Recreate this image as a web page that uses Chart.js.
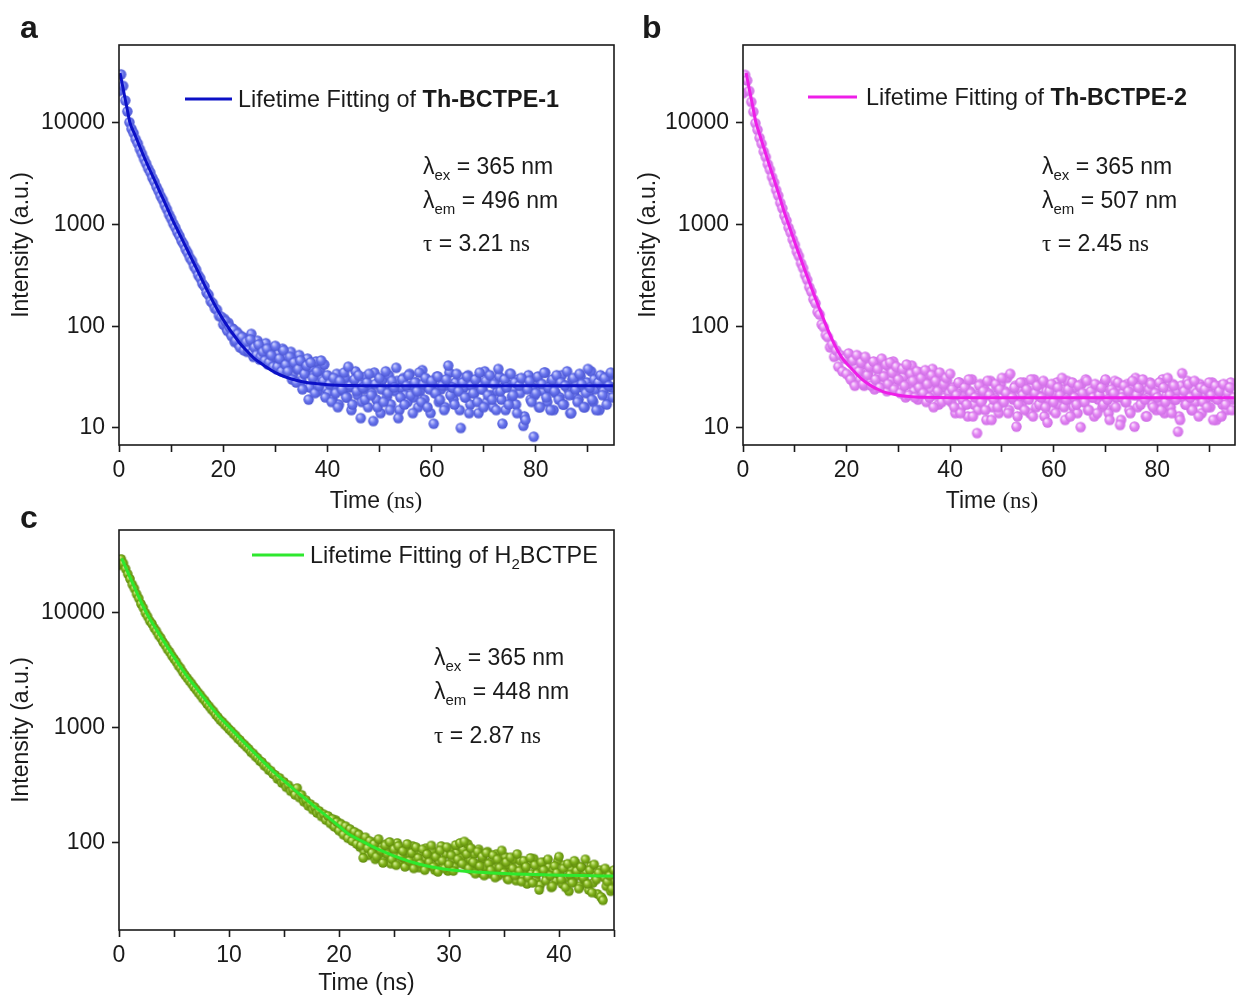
<!DOCTYPE html>
<html>
<head>
<meta charset="utf-8">
<script src="https://cdn.jsdelivr.net/npm/chart.js@4.4.1/dist/chart.umd.min.js"></script>
<style>
  body { margin: 0; background: #fff; }
  canvas { position: absolute; }
</style>
</head>
<body>
<canvas id="chartA" width="620" height="520" style="left:0;top:0"></canvas>
<canvas id="chartB" width="621" height="520" style="left:620px;top:0"></canvas>
<canvas id="chartC" width="620" height="493" style="left:0;top:505px"></canvas>
<script>
// ---------------- Data ----------------
const samples = ["Th-BCTPE-1", "Th-BCTPE-2", "BCTPE"];
const exNm = [365, 365, 365];
const emNm = [496, 507, 448];
const tauNs = ["3.21", "2.45", "2.87"];

// panel a : decay counts, one value per 0.4 ns channel starting at 0 ns
const STEP_A = 0.4;
const countsA = [
  20500,29800,23000,16500,12900,10100,8700,7900,6900,6250,
  5500,4950,4400,3980,3560,3250,2880,2630,2340,2130,
  1900,1740,1550,1410,1250,1140,1020,935,840,770,
  690,640,570,525,470,438,388,360,318,296,
  262,246,214,203,176,168,150,145,126,124,
  104,112,90,98,80,92,72,84,62,78,
  58,70,58,74,55,62,52,66,50,56,
  46,60,44,52,40,64,40,48,36,58,
  42,36,50,30,44,28,38,46,24,34,
  41,19,44,31,22,36,26,46,29,20,
  33,
  27,18,31,22,16,29,24,35,20,40,
  26,17,30,23,33,12.5,25,19,28,34,
  21,11.7,27,16,31,24,18,36,22,15,
  29,25,39,12.5,20,30,17,26,33,21,
  14,28,23,35,18,27,31,16,24,29,
  11,22,32,19,26,15,30,41,21,25,
  17,34,23,10,28,20,32,14,26,22,
  30,18,35,24,16,29,21,33,19,27,
  15,38,23,11,30,25,17,34,21,28,
  14,26,31,10.5,12,24,29,18,8.2,22,
  32,16,27,35,20,25,15,30,23,33,
  19,28,17,26,36,21,14,31,24,18,
  34,27,16,22,38,25,19,30,15,28,
  33,21,31,17,26,35,20
];
// in-between channels of the noisy tail (from 20.2 ns, 0.4 ns apart)
const START_A2 = 20.2;
const countsA2 = [
  118,96,108,86,95,70,88,66,80,60,
  76,56,68,84,50,64,72,47,60,54,
  68,42,58,48,62,38,54,45,60,35,
  50,40,56,33,47,38,52,29,43,35,
  48,25,39,33,45,23,37,30,42,24,
  22,30,19,26,34,17,28,23,31,20,
  25,15,29,36,21,27,18,24,32,16,
  26,22,35,19,28,14,30,24,20,33,
  17,27,23,29,15,25,31,21,18,34,
  26,20,28,16,23,37,19,30,25,14,
  27,22,32,18,24,29,16,26,35,21,
  19,28,23,15,31,25,20,33,17,27,
  22,30,14,26,24,36,18,28,21,16,
  29,23,32,19,25,15,27,34,20,24,
  17,30,22,28,13,26,33,19,25,21,
  31,16,27,23,35,18,24,29,15,22,
  28,20,33,17,26,24,14,30,21,27,
  19,32,25,16,28,22,36,18,24,30,
  15,26,23,29,20,33,25
];
const fitTimeA = [0.2,0.6,1,1.5,2.1,3,4,5,6,7,8,9,10,11,12,13,14,15,16,17,18,19,20,21,22,23,24,25,26,27,28,30,32,34,36,38,40,45,50,70,94.8];
const fitA = [30800,24300,19000,14200,10000,7720,5790,4370,3370,2600,2000,1550,1190,930,733,577,454,357,281,221,176,142,116,97,82,70,61,54,48,44,40.5,35,31.6,29.4,28,27.2,26.6,26.1,26,26,26];

// panel b
const STEP_B = 0.4;
const countsB = [
  19500,29500,26000,20500,16000,12800,9900,8500,7100,6200,
  5200,4600,3900,3450,2920,2580,2180,1920,1630,1440,
  1220,1090,930,830,710,630,540,488,415,372,
  318,285,242,218,184,168,138,130,104,98,
  82,78,62,66,50,58,40,52,36,48,
  34,54,30,46,26,52,36,44,27,50,
  33,40,26,45,30,38,25,48,32,42,
  27,44,35,24,40,30,22,38,26,42,
  21,34,29,20,36,25,31,22,37,27,
  20,33,16,29,23,35,18,27,31,19,
  34,
  24,16,21,28,14,19,25,17,30,22,
  13,20,8.9,26,18,23,15,29,21,12,
  19,27,16,24,31,18,22,14,34,20,
  25,10.3,17,28,21,15,24,19,30,13,
  22,26,17,20,29,16,11.3,23,27,18,
  14,25,21,31,16,19,24,13,28,20,
  17,26,10.2,22,18,29,15,23,20,27,
  14,21,25,17,30,19,12,24,22,16,
  28,10.7,20,26,18,23,14,29,10.3,21,
  25,17,30,19,13,24,27,16,22,20,
  28,15,25,18,31,21,14,26,19,9.2,
  12,34.5,23,17,27,20,15,29,22,13,
  25,18,24,16,28,21,12,26,19,23,
  13,27,17,22,25,15,20
];
const START_B2 = 20.2;
const countsB2 = [
  48,32,44,28,40,50,30,42,26,46,
  35,28,43,24,39,32,46,26,36,23,
  40,29,45,25,34,38,24,32,20,37,
  27,41,23,31,19,35,26,30,18,33,
  24,38,21,28,17,32,25,20,29,22,
  18,25,14,22,28,16,20,26,13,23,
  30,17,21,15,27,19,24,12,22,29,
  16,20,25,14,27,18,23,31,15,21,
  19,26,13,24,17,28,20,22,14,25,
  30,16,21,18,27,13,23,19,26,15,
  22,28,17,20,24,12,29,19,23,16,
  25,14,21,27,18,30,15,22,20,13,
  26,19,24,16,28,21,14,23,17,29,
  20,25,12,22,18,27,15,24,21,31,
  16,23,19,26,13,20,28,17,22,15,
  25,18,30,14,21,24,16,27,19,23,
  13,26,20,17,29,22,15,24,18,21,
  27,14,25,19,23,16,28,20,12,22,
  26,17,24,15,21,28,19
];
const fitTimeB = [0.6,1,1.5,2,2.5,3,4,5,6,7,8,9,10,11,12,13,14,15,16,17,18,19,20,21,22,23,24,25,26,27,28,30,32,35,40,60,94.8];
const fitB = [30800,24300,18100,13450,10000,8280,5700,3955,2755,1920,1310,935,666,481,349,255,187,139,103,78,61,50,43,38,33.5,30,27.5,25.5,24,22.8,22,21,20.4,20,19.8,19.8,19.8];

// panel c : 0.2 ns channels
const STEP_C = 0.2;
const countsC = [
  26000,29500,27000,24200,21800,19800,17700,16300,14600,13400,
  12000,11100,10000,9300,8500,8050,7400,6950,6400,6050,
  5580,5250,4850,4580,4250,4000,3760,3480,3300,3060,
  2880,2720,2560,2430,2270,2160,2030,1930,1810,1730,
  1620,1540,1450,1390,1300,1240,1170,1130,1070,1030,
  975,940,890,860,810,785,740,715,680,655,
  615,600,565,548,515,505,470,462,430,425,
  398,390,360,368,332,340,305,318,282,292,
  262,300,248,262,228,236,210,218,195,205,
  182,190,170,178,158,172,148,162,138,152,
  128,145,118,140,110,132,104,125,98,118,
  95,
  74,112,90,104,82,98,76,108,86,67,
  95,80,102,72,88,64,94,76,85,62,
  98,70,82,60,92,74,66,88,58,80,
  68,95,62,76,56,86,70,60,92,65,
  78,57,96,72,100,66,103,80,60,90,
  68,54,84,63,76,52,82,66,58,78,
  50,72,61,86,55,68,48,75,60,52,
  80,57,46,70,62,50,74,45,64,54,
  39,68,58,47,72,52,42,63,55,76,
  48,60,41,66,53,45,70,57,40,62,
  50,72,44,58,37,65,48,55,34,31.7,
  60,46,52,40,58
];
const START_C2 = 19.1;
const countsC2 = [
  165,152,142,158,133,148,125,138,116,130,
  108,124,102,120,92,
  110,84,100,78,96,88,72,104,80,92,
  70,98,84,66,90,78,100,68,86,74,
  90,64,78,94,70,84,61,80,72,90,
  63,77,86,58,74,68,94,62,80,57,
  88,70,62,82,95,74,88,64,98,72,
  58,80,66,88,55,72,62,84,54,70,
  60,80,52,68,58,76,49,64,56,72,
  47,62,70,51,58,44,66,54,73,48,
  60,43,56,68,50,62,41,58,47,70,
  53,44,64,50,38,59,46,67,52,42,
  61,48,55,39,63,45,52,36,58,33,
  50,42,56,38,47
];
const fitTimeC = [0.24,1,1.7,2.5,3.5,4.5,6,7,8,9,10.1,11,12,13,14.2,15,16,17,17.8,19,20,20.8,22,23,24,25,26,27,28,29,30,32,34,36,38,40,42,45];
const fitC = [29900,20400,14450,10000,6920,4900,2990,2240,1690,1290,1000,813,650,522,404,347,287,240,207,168,140,121,104.7,93.5,84.5,77.3,71.3,66.7,63.1,60.5,58.6,56.2,54.8,53.8,53.1,52.5,52,51.6];

// axis ticks
const xTicksAB = [0,10,20,30,40,50,60,70,80,90];
const xLabelsAB = [0,20,40,60,80];
const xTicksC = [0,5,10,15,20,25,30,35,40,45];
const xLabelsC = [0,10,20,30,40];
const yTicksAB = [10,100,1000,10000];
const yTicksC = [100,1000,10000];

// ---------------- Helpers ----------------
const INK = "#1a1a1a";
const SANS = "'Liberation Sans', Arial, Helvetica, sans-serif";
const SERIF = "'Liberation Serif', 'Times New Roman', Times, serif";
const FS = 23;
const LEG_FS = 23.4;
const font = (size, bold, serif) => `${bold ? "bold " : ""}${size}px ${serif ? SERIF : SANS}`;

const toPoints = (step, counts, start = 0) =>
  counts.map((v, i) => ({ x: Math.round((start + i * step) * 100) / 100, y: v }));
const toLine = (times, vals) => times.map((t, i) => ({ x: t, y: vals[i] }));

// little shaded sphere used as marker
function makeBall(base, light, dark, r) {
  const c = document.createElement("canvas");
  const s = Math.ceil(r * 2 + 2);
  c.width = c.height = s;
  const g = c.getContext("2d");
  const m = s / 2;
  const grad = g.createRadialGradient(m - r * 0.35, m - r * 0.4, r * 0.1, m, m, r);
  grad.addColorStop(0, light);
  grad.addColorStop(0.5, base);
  grad.addColorStop(1, dark);
  g.fillStyle = grad;
  g.beginPath(); g.arc(m, m, r, 0, Math.PI * 2); g.fill();
  return c;
}

function drawRuns(ctx, x, y, runs, size) {
  runs.forEach(r => {
    ctx.font = font(r.size || size || FS, r.bold, r.serif);
    ctx.fillText(r.text, x, y + (r.dy || 0));
    x += ctx.measureText(r.text).width;
  });
}
function runsWidth(ctx, runs) {
  let w = 0;
  runs.forEach(r => { ctx.font = font(r.size || FS, r.bold, r.serif); w += ctx.measureText(r.text).width; });
  return w;
}

// frame, panel letter, legend, annotation
function makeDeco(d) {
  return {
    id: "panelDeco",
    afterDraw(chart) {
      const { ctx, chartArea: a } = chart;
      ctx.save();
      ctx.strokeStyle = INK;
      ctx.lineWidth = 1.6;
      ctx.strokeRect(a.left, a.top, a.right - a.left, a.bottom - a.top);

      ctx.fillStyle = INK;
      ctx.textAlign = "left";
      ctx.textBaseline = "alphabetic";
      ctx.font = font(32, true);
      ctx.fillText(d.letter, d.letterX, d.letterY);

      ctx.strokeStyle = d.lineColor;
      ctx.lineWidth = 3;
      ctx.beginPath(); ctx.moveTo(d.legX1, d.legY); ctx.lineTo(d.legX2, d.legY); ctx.stroke();
      drawRuns(ctx, d.legTextX, d.legY + 8, d.legRuns, LEG_FS);

      d.notes.forEach((runs, k) => drawRuns(ctx, d.noteX, d.noteY[k], runs));

      if (d.xTitle) {
        const w = runsWidth(ctx, d.xTitle);
        drawRuns(ctx, d.xTitleX - w / 2, d.xTitleY, d.xTitle);
      }
      ctx.restore();
    }
  };
}

function noteRuns(k) {
  return [
    [{ text: "λ" }, { text: "ex", size: 15, dy: 6 }, { text: ` = ${exNm[k]} nm` }],
    [{ text: "λ" }, { text: "em", size: 15, dy: 6 }, { text: ` = ${emNm[k]} nm` }],
    [{ text: "τ", serif: true }, { text: ` = ${tauNs[k]} ` }, { text: "ns", serif: true }]
  ];
}

function buildPanel(id, p) {
  const tickFont = { family: SANS, size: FS };
  const dots = p.points.map(pts => (
    { data: pts, pointStyle: p.ball, pointRadius: 5, showLine: false, order: 1, clip: 0 }
  ));
  return new Chart(document.getElementById(id), {
    type: "scatter",
    data: {
      datasets: [
        { data: p.fit, showLine: true, borderColor: p.lineColor, borderWidth: 3, pointRadius: 0,
          cubicInterpolationMode: "monotone", order: 0, clip: 0 },
        ...dots
      ]
    },
    options: {
      responsive: false,
      animation: false,
      events: [],
      layout: { padding: p.padding },
      plugins: { legend: { display: false }, tooltip: { enabled: false } },
      scales: {
        x: {
          type: "linear", min: 0, max: p.xMax,
          afterBuildTicks: s => { s.ticks = p.xTicks.map(v => ({ value: v })); },
          afterFit: s => { s.height = p.xAxisH; },
          ticks: { autoSkip: false, maxRotation: 0, padding: 5, color: INK, font: tickFont,
                   callback: v => p.xLabels.includes(v) ? String(v) : "" },
          grid: { drawOnChartArea: false, drawTicks: true, tickLength: 7, tickColor: INK, tickWidth: 1.6 },
          border: { display: false },
          title: p.xTitleChart ? { display: true, text: "Time (ns)", color: INK, font: tickFont,
                                   padding: { top: 0, bottom: 1 } } : { display: false }
        },
        y: {
          type: "logarithmic", min: p.yMin, max: p.yMax,
          afterBuildTicks: s => { s.ticks = p.yTicks.map(v => ({ value: v })); },
          afterFit: s => { s.width = p.yAxisW; },
          ticks: { autoSkip: false, padding: 7, color: INK, font: tickFont, callback: v => String(v) },
          grid: { drawOnChartArea: false, drawTicks: true, tickLength: 7, tickColor: INK, tickWidth: 1.6 },
          border: { display: false },
          title: { display: true, text: "Intensity (a.u.)", color: INK, font: tickFont,
                   padding: { top: p.yTitlePad, bottom: 0 } }
        }
      }
    },
    plugins: [makeDeco(p.deco)]
  });
}

const timeTitle = [{ text: "Time " }, { text: "(ns)", serif: true }];

// ---------------- Panel a ----------------
buildPanel("chartA", {
  points: [toPoints(STEP_A, countsA), toPoints(STEP_A, countsA2, START_A2)],
  fit: toLine(fitTimeA, fitA),
  ball: makeBall("#6b77ee", "#c9ceff", "#4c57d4", 5.2), lineColor: "#0b10c6",
  padding: { top: 45, right: 6, left: 0, bottom: 0 }, yAxisW: 119, xAxisH: 75, yTitlePad: 8,
  xMax: 95, xTicks: xTicksAB, xLabels: xLabelsAB, yMin: 6.8, yMax: 58000, yTicks: yTicksAB,
  deco: {
    letter: "a", letterX: 20, letterY: 38, lineColor: "#0b10c6",
    legX1: 185, legX2: 232, legY: 99, legTextX: 238,
    legRuns: [{ text: "Lifetime Fitting of " }, { text: samples[0], bold: true }],
    noteX: 423, noteY: [174, 208, 251], notes: noteRuns(0),
    xTitle: timeTitle, xTitleX: 376, xTitleY: 508
  }
});

// ---------------- Panel b ----------------
buildPanel("chartB", {
  points: [toPoints(STEP_B, countsB), toPoints(STEP_B, countsB2, START_B2)],
  fit: toLine(fitTimeB, fitB),
  ball: makeBall("#e386f3", "#fbe2ff", "#cf6ee6", 5.2), lineColor: "#ee1ee8",
  padding: { top: 45, right: 3, left: 0, bottom: 0 }, yAxisW: 123, xAxisH: 75, yTitlePad: 15,
  xMax: 95, xTicks: xTicksAB, xLabels: xLabelsAB, yMin: 6.8, yMax: 58000, yTicks: yTicksAB,
  deco: {
    letter: "b", letterX: 22, letterY: 38, lineColor: "#ee1ee8",
    legX1: 188, legX2: 237, legY: 97, legTextX: 246,
    legRuns: [{ text: "Lifetime Fitting of " }, { text: samples[1], bold: true }],
    noteX: 422, noteY: [174, 208, 251], notes: noteRuns(1),
    xTitle: timeTitle, xTitleX: 372, xTitleY: 508
  }
});

// ---------------- Panel c ----------------
buildPanel("chartC", {
  points: [toPoints(STEP_C, countsC), toPoints(STEP_C, countsC2, START_C2)],
  fit: toLine(fitTimeC, fitC),
  ball: makeBall("#80b21c", "#d4ee92", "#5e8a0c", 4.8), lineColor: "#2ee82e",
  padding: { top: 25, right: 6, left: 0, bottom: 0 }, yAxisW: 119, xAxisH: 68, yTitlePad: 8,
  xMax: 45, xTicks: xTicksC, xLabels: xLabelsC, yMin: 17.5, yMax: 52700, yTicks: yTicksC,
  xTitleChart: true,
  deco: {
    letter: "c", letterX: 20, letterY: 23, lineColor: "#2ee82e",
    legX1: 252, legX2: 304, legY: 50, legTextX: 310,
    legRuns: [{ text: "Lifetime Fitting of H" }, { text: "2", size: 15, dy: 6 }, { text: samples[2] }],
    noteX: 434, noteY: [160, 194, 238], notes: noteRuns(2)
  }
});
</script>
</body>
</html>
